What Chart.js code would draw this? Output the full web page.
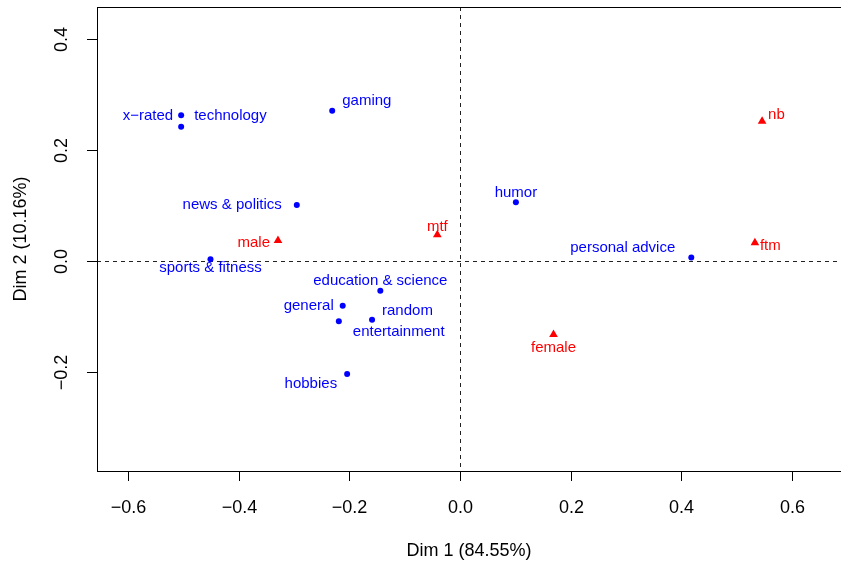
<!DOCTYPE html>
<html>
<head>
<meta charset="utf-8">
<script src="https://cdn.jsdelivr.net/npm/chart.js@4/dist/chart.umd.min.js"></script>
<style>
  html, body { margin: 0; padding: 0; background: #fff; overflow: hidden; }
  #wrap { width: 841px; height: 563px; }
</style>
</head>
<body>
<div id="wrap"><canvas id="ca-canvas" width="841" height="563"></canvas></div>
<script>
// row points (subreddit categories)
const rowNames = ["x\u2212rated", "technology", "gaming", "news & politics", "sports & fitness",
  "education & science", "general", "random", "entertainment", "hobbies", "humor", "personal advice"];
const rowDim1 = [-0.504, -0.504, -0.231, -0.295, -0.451, -0.144, -0.212, -0.159, -0.219, -0.204, 0.101, 0.418];
const rowDim2 = [0.263, 0.242, 0.271, 0.101, 0.003, -0.054, -0.081, -0.106, -0.109, -0.204, 0.106, 0.006];

// column points (gender)
const colNames = ["nb", "ftm", "mtf", "male", "female"];
const colDim1 = [0.546, 0.533, -0.041, -0.329, 0.169];
const colDim2 = [0.252, 0.033, 0.047, 0.037, -0.133];

// axis ticks
const xTicks = [-0.6, -0.4, -0.2, 0.0, 0.2, 0.4, 0.6];
const yTicks = [-0.2, 0.0, 0.2, 0.4];
const xTitle = "Dim 1 (84.55%)";
const yTitle = "Dim 2 (10.16%)";

// where each label sits relative to its point: [align, dx, dy]
const rowLabelPos = [
  ["right", -8, 1], ["left", 13, -11], ["left", 10, -10], ["right", -15, 0],
  ["center", 0, 9], ["center", 0, -10], ["right", -9, 0], ["left", 10, -9],
  ["left", 14, 11], ["right", -10, 10], ["center", 0, -9], ["right", -16, -10]
];
const colLabelPos = [
  ["left", 6, -6], ["left", 5, 3], ["center", 0, -8], ["right", -8, 2], ["center", 0, 13]
];

const FONT = "'Liberation Sans', Arial, Helvetica, sans-serif";

function fmt(v) {
  return v.toFixed(1).replace("-", "\u2212");
}

const toPoints = (xs, ys) => xs.map((x, i) => ({ x: x, y: ys[i] }));

const frameAndAxes = {
  id: "frameAndAxes",
  beforeDatasetsDraw(chart) {
    const ctx = chart.ctx;
    const a = chart.chartArea;
    const xs = chart.scales.x;
    const ys = chart.scales.y;
    ctx.save();
    // dashed zero lines
    ctx.strokeStyle = "#222";
    ctx.lineWidth = 1;
    ctx.setLineDash([4, 4]);
    const x0 = Math.round(xs.getPixelForValue(0)) + 0.5;
    const y0 = Math.round(ys.getPixelForValue(0)) + 0.5;
    ctx.beginPath();
    ctx.moveTo(x0, a.top);
    ctx.lineTo(x0, a.bottom);
    ctx.moveTo(a.left, y0);
    ctx.lineTo(a.right, y0);
    ctx.stroke();
    ctx.setLineDash([]);

    // box
    ctx.strokeStyle = "#000";
    ctx.strokeRect(a.left + 0.5, a.top + 0.5, a.right - a.left, a.bottom - a.top);

    // x axis ticks + labels
    ctx.fillStyle = "#000";
    ctx.font = "18px " + FONT;
    ctx.textAlign = "center";
    ctx.textBaseline = "alphabetic";
    xTicks.forEach(t => {
      const px = Math.round(xs.getPixelForValue(t)) + 0.5;
      ctx.beginPath();
      ctx.moveTo(px, a.bottom);
      ctx.lineTo(px, a.bottom + 10);
      ctx.stroke();
      ctx.fillText(fmt(t), px, a.bottom + 42);
    });
    ctx.fillText(xTitle, (a.left + a.right) / 2, a.bottom + 85);

    // y axis ticks + rotated labels
    yTicks.forEach(t => {
      const py = Math.round(ys.getPixelForValue(t)) + 0.5;
      ctx.beginPath();
      ctx.moveTo(a.left, py);
      ctx.lineTo(a.left - 10, py);
      ctx.stroke();
      ctx.save();
      ctx.translate(a.left - 30, py);
      ctx.rotate(-Math.PI / 2);
      ctx.fillText(fmt(t), 0, 0);
      ctx.restore();
    });
    ctx.save();
    ctx.translate(a.left - 71, (a.top + a.bottom) / 2);
    ctx.rotate(-Math.PI / 2);
    ctx.fillText(yTitle, 0, 0);
    ctx.restore();
    ctx.restore();
  },
  afterDatasetsDraw(chart) {
    const ctx = chart.ctx;
    ctx.save();
    ctx.font = "15px " + FONT;
    ctx.textBaseline = "middle";
    const groups = [
      { names: rowNames, pos: rowLabelPos, color: "#0000ff" },
      { names: colNames, pos: colLabelPos, color: "#ff0000" }
    ];
    groups.forEach((g, di) => {
      const meta = chart.getDatasetMeta(di);
      ctx.fillStyle = g.color;
      meta.data.forEach((pt, i) => {
        const p = g.pos[i];
        ctx.textAlign = p[0];
        ctx.fillText(g.names[i], pt.x + p[1], pt.y + p[2]);
      });
    });
    ctx.restore();
  }
};

new Chart(document.querySelector("#ca-canvas"), {
  type: "scatter",
  data: {
    datasets: [
      {
        label: "rows",
        data: toPoints(rowDim1, rowDim2),
        pointStyle: "circle",
        pointRadius: 3,
        backgroundColor: "#0000ff",
        borderWidth: 0
      },
      {
        label: "columns",
        data: toPoints(colDim1, colDim2),
        pointStyle: "triangle",
        pointRadius: 5,
        backgroundColor: "#ff0000",
        borderWidth: 0
      }
    ]
  },
  options: {
    responsive: false,
    animation: false,
    devicePixelRatio: 1,
    clip: false,
    layout: { autoPadding: false, padding: { left: 97, top: 7, right: 0, bottom: 92 } },
    plugins: { legend: { display: false }, tooltip: { enabled: false } },
    scales: {
      x: { type: "linear", display: false, min: -0.6561, max: 0.6886 },
      y: { type: "linear", display: false, min: -0.3792, max: 0.4583 }
    }
  },
  plugins: [frameAndAxes]
});
</script>
</body>
</html>
